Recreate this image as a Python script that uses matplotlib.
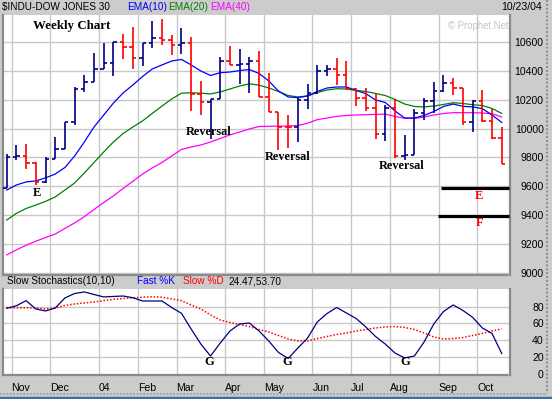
import matplotlib
matplotlib.use("Agg")
import matplotlib.pyplot as plt
import numpy as np
import pandas as pd
from matplotlib.lines import Line2D

# ---------------- data ----------------
weeks = pd.date_range("2003-10-27", periods=52, freq="W-MON")

opens = [9590, 9803, 9810, 9764, 9628, 9791, 9861, 10046, 10276, 10323,
         10411, 10457, 10600, 10567, 10491, 10593, 10628, 10616, 10577, 10593,
         10242, 10184, 10207, 10468, 10439, 10445, 10468, 10219, 10115, 10014,
         10011, 10198, 10247, 10399, 10411, 10373, 10276, 10212, 10143, 9960,
         10143, 9810, 9819, 10110, 10189, 10258, 10318, 10281, 10046, 10189,
         10050, 9935]
highs = [9826, 9884, 9891, 9768, 9803, 9942, 10046, 10288, 10373, 10526,
         10595, 10600, 10653, 10704, 10593, 10746, 10757, 10646, 10699, 10635,
         10330, 10203, 10496, 10572, 10549, 10496, 10536, 10385, 10115, 10094,
         10215, 10309, 10439, 10439, 10489, 10466, 10278, 10281, 10242, 10161,
         10203, 9953, 10134, 10212, 10323, 10369, 10351, 10281, 10196, 10265,
         10138, 10014]
lows = [9590, 9780, 9718, 9609, 9626, 9791, 9861, 10025, 10254, 10323,
        10411, 10364, 10484, 10415, 10432, 10558, 10577, 10512, 10519, 10120,
        10092, 9930, 10207, 10439, 10311, 10247, 10219, 10115, 9848, 9862,
        9910, 10138, 10242, 10362, 10304, 10272, 10156, 10120, 9930, 9912,
        9796, 9780, 9819, 10057, 10110, 10254, 10231, 10027, 9976, 10046,
        9930, 9757]
closes = [9803, 9810, 9764, 9628, 9791, 9861, 10046, 10276, 10323, 10411,
          10457, 10600, 10567, 10491, 10593, 10628, 10616, 10577, 10593, 10242,
          10184, 10207, 10468, 10439, 10445, 10468, 10219, 10115, 10014, 10011,
          10198, 10247, 10399, 10411, 10373, 10276, 10212, 10143, 9960, 10143,
          9810, 9819, 10110, 10189, 10258, 10318, 10281, 10046, 10189, 10050,
          9935, 9757]

ema10 = [9574, 9609, 9630, 9637, 9658, 9685, 9730, 9810, 9907, 10011,
         10094, 10177, 10247, 10302, 10361, 10413, 10441, 10468, 10479, 10441,
         10399, 10368, 10387, 10392, 10402, 10409, 10382, 10330, 10260, 10219,
         10214, 10226, 10257, 10281, 10288, 10288, 10264, 10242, 10198, 10181,
         10122, 10073, 10073, 10091, 10118, 10153, 10170, 10154, 10150, 10138,
         10094, 10042]
ema20 = [9366, 9412, 9446, 9470, 9495, 9526, 9574, 9623, 9692, 9765,
         9838, 9907, 9966, 10011, 10053, 10105, 10156, 10205, 10245, 10248,
         10245, 10240, 10254, 10274, 10295, 10310, 10301, 10281, 10257, 10229,
         10219, 10226, 10250, 10267, 10276, 10274, 10264, 10257, 10243, 10229,
         10202, 10170, 10153, 10150, 10156, 10167, 10179, 10174, 10165, 10160,
         10139, 10105]
ema40 = [9124, 9159, 9191, 9219, 9245, 9269, 9308, 9346, 9389, 9439,
         9488, 9533, 9585, 9635, 9685, 9727, 9765, 9810, 9855, 9872,
         9886, 9907, 9931, 9956, 9976, 9997, 10014, 10016, 10016, 10018,
         10021, 10037, 10062, 10073, 10084, 10091, 10094, 10096, 10098, 10100,
         10084, 10071, 10070, 10080, 10094, 10104, 10110, 10110, 10110, 10108,
         10103, 10080]

fast_k = [78.0, 81.0, 87.0, 77.2, 74.8, 78.3, 90.2, 95.5, 97.3, 94.3,
          91.4, 92.0, 92.5, 90.5, 86.6, 86.6, 86.6, 78.9, 72.1, 53.5,
          35.7, 21.5, 36.9, 51.1, 59.4, 60.6, 51.1, 39.3, 25.7, 18.6,
          31.0, 42.8, 61.8, 71.8, 78.9, 72.4, 65.9, 55.9, 44.6, 35.7,
          25.1, 19.2, 21.5, 38.1, 59.4, 74.2, 81.9, 75.4, 67.3, 54.7,
          48.2, 24.47]
slow_d = [78.7, 78.7, 78.7, 78.3, 77.2, 78.3, 81.3, 83.1, 84.3, 85.4,
          87.0, 88.6, 89.6, 90.3, 91.1, 91.6, 91.1, 89.0, 87.0, 81.9,
          77.2, 70.1, 64.1, 61.2, 58.8, 56.4, 52.9, 49.9, 45.8, 41.7,
          39.3, 39.3, 42.2, 44.6, 47.0, 48.8, 51.1, 52.9, 54.7, 55.9,
          56.4, 55.3, 52.9, 48.8, 44.0, 41.7, 42.2, 43.4, 45.8, 48.2,
          51.1, 53.70]

price_ticks = [9000, 9200, 9400, 9600, 9800, 10000, 10200, 10400, 10600]
stoch_ticks = [0, 20, 40, 60, 80]
month_labels = ["Nov", "Dec", "04", "Feb", "Mar", "Apr", "May", "Jun",
                "Jul", "Aug", "Sep", "Oct"]

support_levels = [9590, 9395]
support_names = ["E", "F"]

# ---------------- figure ----------------
W, H = 552, 399
BG = "#cccccc"
GRID = "#c8c8c8"
NAVY = "#000080"
RED = "#ff0000"
SANS = "Liberation Sans"
SERIF = "Liberation Serif"
FS = 7.6
HFS = 7.2

fig = plt.figure(figsize=(W / 100, H / 100), dpi=100, facecolor=BG)


def fx(px):
    return px / W


def fy(py):
    return 1 - py / H


ax = fig.add_axes([fx(3), fy(275), fx(509.5) - fx(3), fy(15) - fy(275)])
ax2 = fig.add_axes([fx(3), fy(374.5), fx(509.5) - fx(3), fy(289) - fy(374.5)])

x = np.arange(len(closes))
xlim = (-0.38, 51.8)

# month boundaries from the week dates
months = weeks.month
bounds = [i - 0.5 for i in range(1, len(weeks)) if months[i] != months[i - 1]]

for a in (ax, ax2):
    a.set_facecolor("white")
    a.set_xlim(*xlim)
    for b in bounds:
        a.axvline(b, color=GRID, lw=1.0, zorder=0)
    for side in ("left", "right", "bottom"):
        a.spines[side].set_color("#8a8a8a")
        a.spines[side].set_linewidth(1.6)
        a.spines[side].set_linestyle((0, (1, 1)))
    a.spines["top"].set_visible(False)

# ---- main price panel ----
ax.set_ylim(8985, 10787)
for v in price_ticks:
    ax.axhline(v, color=GRID, lw=1.0, zorder=0)

colors = [NAVY if c >= o else RED for o, c in zip(opens, closes)]
tick = 0.36
ax.vlines(x, lows, highs, colors=colors, lw=1.2, zorder=3)
ax.hlines(opens, x - tick, x, colors=colors, lw=1.2, zorder=3)
ax.hlines(closes, x, x + tick, colors=colors, lw=1.2, zorder=3)

ax.plot(x, ema40, color="#ff00ff", lw=0.9, zorder=2)
ax.plot(x, ema20, color="#008000", lw=0.9, zorder=2)
ax.plot(x, ema10, color="#0000ff", lw=0.9, zorder=2)

ax.set_xticks([])
ax.yaxis.tick_right()
ax.set_yticks(price_ticks)
ax.set_yticklabels([str(v) for v in price_ticks], fontsize=FS, family=SANS)
for lbl in ax.get_yticklabels():
    lbl.set_ha("right")
ax.tick_params(axis="y", length=0, pad=24.6)

# support lines
ax.hlines(support_levels[0], 44.7, xlim[1], colors="black", lw=2.3, zorder=4)
ax.hlines(support_levels[1], 44.4, xlim[1], colors="black", lw=2.3, zorder=4)
ax.text(48.7, 9533, support_names[0], color=RED, fontsize=9, family=SERIF,
        weight="bold", ha="center", va="center")
ax.text(48.7, 9342, support_names[1], color=RED, fontsize=9, family=SERIF,
        weight="bold", ha="center", va="center")

ax.text(6.7, 10711, "Weekly Chart", fontsize=9.3, family=SERIF, weight="bold",
        ha="center", va="center")
ax.text(3.1, 9551, "E", fontsize=9, family=SERIF, weight="bold",
        ha="center", va="center")
for xi, yi in [(20.8, 9976), (28.9, 9803), (40.7, 9741)]:
    ax.text(xi, yi, "Reversal", fontsize=8.8, family=SERIF, weight="bold",
            ha="center", va="center")

ax.text(51.7, 10711, "\u00a9 Prophet.Net", fontsize=6.9, family=SANS,
        color="#c4c4c4", ha="right", va="center")

# ---- stochastic panel ----
ax2.set_ylim(-0.35, 100.8)
for v in stoch_ticks[1:]:
    ax2.axhline(v, color=GRID, lw=1.0, zorder=0)
ax2.plot(x, slow_d, color=RED, lw=1.1, linestyle=(0, (1, 1.2)), zorder=2)
ax2.plot(x, fast_k, color=NAVY, lw=0.9, zorder=3)

ax2.yaxis.tick_right()
ax2.set_yticks(stoch_ticks)
ax2.set_yticklabels([str(v) for v in stoch_ticks], fontsize=FS, family=SANS)
for lbl in ax2.get_yticklabels():
    lbl.set_ha("right")
ax2.tick_params(axis="y", length=0, pad=24.6)

ax2.set_xticks(bounds)
ax2.set_xticklabels(month_labels, fontsize=FS, family=SANS)
for lbl in ax2.get_xticklabels():
    lbl.set_ha("left")
ax2.tick_params(axis="x", length=0, pad=6)

for xi in (20.9, 28.9, 41.1):
    ax2.text(xi, 14.4, "G", fontsize=9, family=SERIF, weight="bold",
             ha="center", va="center")

# ---- header texts ----
def ftext(px, py, s, color="black", ha="left", size=HFS):
    fig.text(fx(px), fy(py), s, color=color, fontsize=size, family=SANS,
             ha=ha, va="center")

ftext(2, 7, "$INDU-DOW JONES 30")
ftext(126.7, 7, "EMA(10)", "#0000ff")
ftext(168.3, 7, "EMA(20)", "#008000")
ftext(210, 7, "EMA(40)", "#ff00ff")
ftext(542, 7, "10/23/04", ha="right", size=FS)

ftext(7.3, 281, "Slow Stochastics(10,10)")
ftext(137.3, 281, "Fast %K", "#0000ff")
ftext(182.7, 281, "Slow %D", RED)
ftext(228.5, 281, "%.2f,%.2f" % (fast_k[-1], slow_d[-1]))

# window chrome: dotted borders and bottom strip
fig.add_artist(Line2D([fx(546.5), fx(546.5)], [fy(0), fy(393)], transform=fig.transFigure,
                      color="#8a8a8a", lw=1.4, linestyle=(0, (1, 1))))
fig.add_artist(Line2D([fx(0), fx(547)], [fy(393.5), fy(393.5)], transform=fig.transFigure,
                      color="#9a9a9a", lw=1.2, linestyle=(0, (1, 1))))
fig.patches.append(plt.Rectangle((0, 0), 1, 2.5 / H, transform=fig.transFigure,
                                 color="#3a6ea5", zorder=0))

fig.savefig("out.png", dpi=100, facecolor=BG)
